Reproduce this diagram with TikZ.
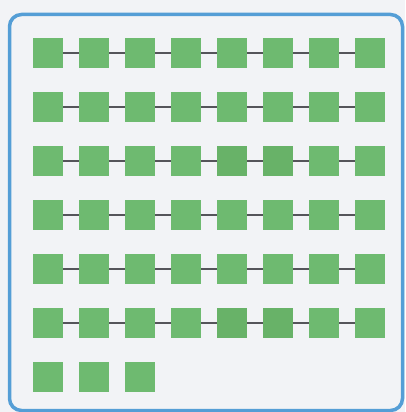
\documentclass[tikz,border=0pt]{standalone}
\definecolor{bgc}{RGB}{242,243,246}
\definecolor{frame}{RGB}{85,158,214}
\definecolor{sq}{RGB}{110,186,112}
\definecolor{sqd}{RGB}{104,178,104}
\definecolor{link}{RGB}{85,85,90}
\tikzset{
  cell/.style={fill=sq, draw=none, minimum width=30pt, minimum height=30pt, inner sep=0pt, outer sep=0pt},
  celldark/.style={cell, fill=sqd},
  linkline/.style={draw=link, line width=2.8pt},
}
\begin{document}
\begin{tikzpicture}[x=1pt,y=-1pt]
\fill[bgc] (0,0) rectangle (405,412);
\useasboundingbox (0,0) rectangle (405,412);
\draw[frame, line width=3.5pt, rounded corners=12pt] (9.5,14.5) rectangle (402.5,410.5);
\foreach \r in {0,...,5}{
  \foreach \c in {0,...,7}{
    \node[cell] (s-\r-\c) at ({48+46*\c},{53+54*\r}) {};
  }
}
\foreach \r in {2,5}{
  \foreach \c in {4,5}{
    \node[celldark] (s-\r-\c) at ({48+46*\c},{53+54*\r}) {};
  }
}
\foreach \r in {0,...,5}{
  \foreach \c [evaluate=\c as \n using int(\c+1)] in {0,...,6}{
    \draw[linkline] (s-\r-\c.east) -- (s-\r-\n.west);
  }
}
\foreach \c in {0,1,2}{
  \node[cell] (s-6-\c) at ({48+46*\c},{53+54*6}) {};
}
\end{tikzpicture}
\end{document}
